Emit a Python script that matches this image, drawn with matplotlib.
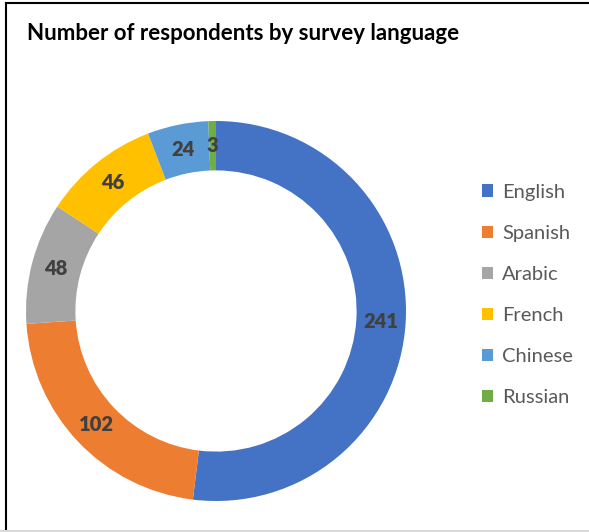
import matplotlib
matplotlib.use('Agg')
import matplotlib.pyplot as plt
from matplotlib.lines import Line2D

languages = ['English', 'Spanish', 'Arabic', 'French', 'Chinese', 'Russian']
respondents = [241, 102, 48, 46, 24, 3]
colors = ['#4472C4', '#ED7D31', '#A5A5A5', '#FFC000', '#5B9BD5', '#70AD47']

plt.rcParams['font.family'] = ['Lato', 'DejaVu Sans']

W, H = 589, 532
fig = plt.figure(figsize=(W / 100, H / 100), dpi=100)

# donut: centre (216, 311) px from top-left, outer radius 190 px
cx, cy, r = 216, 311, 190
ax = fig.add_axes([(cx - r) / W, (H - cy - r) / H, 2 * r / W, 2 * r / H])
hole = 0.74
wedges, texts = ax.pie(respondents, colors=colors, startangle=90, counterclock=False,
                       radius=1, wedgeprops=dict(width=1 - hole, linewidth=0),
                       labels=[str(v) for v in respondents],
                       labeldistance=(1 + hole) / 2)
for t in texts:
    t.set_ha('center')
    t.set_va('center')
    t.set_fontsize(14.5)
    t.set_fontweight('heavy')
    t.set_color('#404040')
ax.set_xlim(-1, 1)
ax.set_ylim(-1, 1)
ax.set_aspect('equal')

fig.text(27 / W, 1 - 33 / H, 'Number of respondents by survey language',
         fontsize=16, fontweight='bold', color='black', ha='left', va='center')

leg = fig.legend(wedges, languages, loc='center left', bbox_to_anchor=(464 / W, 1 - 295 / H),
                 frameon=False, fontsize=14.5, labelcolor='#595959',
                 handlelength=0.55, handleheight=0.55, handletextpad=0.45, labelspacing=1.2)

# chart frame
fig.add_artist(Line2D([5.5 / W, 1], [1 - 2.5 / H, 1 - 2.5 / H], color='black', lw=1.5))
fig.add_artist(Line2D([5.5 / W, 5.5 / W], [1 - 2.5 / H, 1.5 / H], color='black', lw=1.5))
fig.add_artist(Line2D([0, 1], [1.5 / H, 1.5 / H], color='#D9D9D9', lw=1.5))

fig.savefig('out.png', dpi=100)
